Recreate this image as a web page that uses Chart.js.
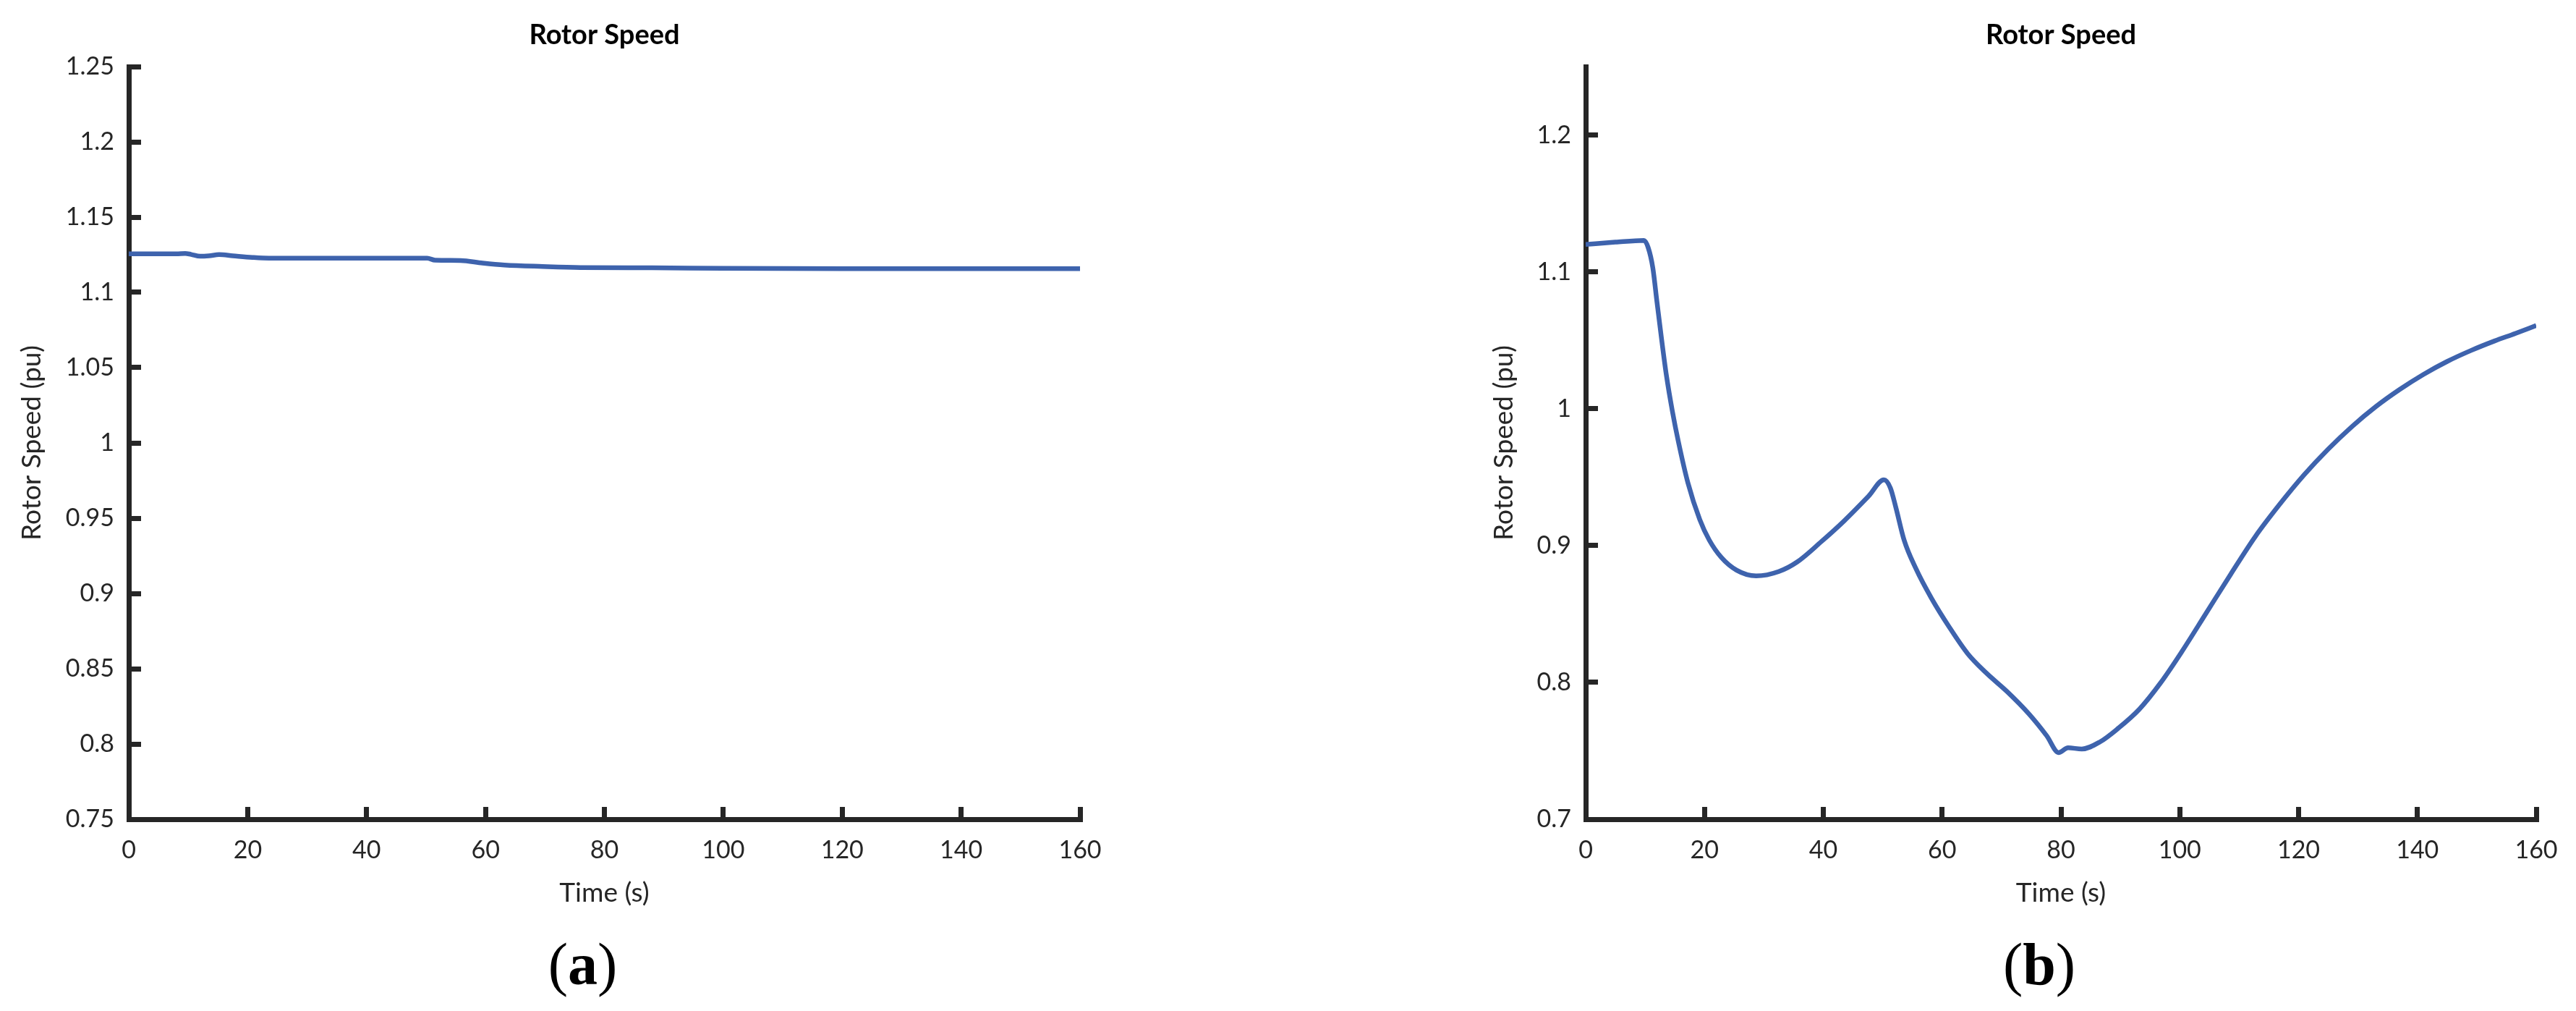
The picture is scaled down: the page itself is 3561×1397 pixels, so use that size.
<!DOCTYPE html>
<html>
<head>
<meta charset="utf-8">
<script src="https://cdn.jsdelivr.net/npm/chart.js@4.4.1/dist/chart.umd.min.js"></script>
<style>
  html, body { margin: 0; padding: 0; background: #ffffff; }
  body { width: 3561px; height: 1397px; position: relative; overflow: hidden; }
  canvas { position: absolute; top: 0; }
  #cA { left: 0; }
  #cB { left: 1780px; }
</style>
</head>
<body>
<canvas id="cA" width="1780" height="1397" style="width:1780px;height:1397px"></canvas>
<canvas id="cB" width="1796" height="1397" style="width:1796px;height:1397px"></canvas>
<script>
// ---------- data ----------
const chartTitle = 'Rotor Speed';
const xAxisLabel = 'Time (s)';
const yAxisLabel = 'Rotor Speed (pu)';
const panelNames = ['a', 'b'];

const xTicks = [0, 20, 40, 60, 80, 100, 120, 140, 160];
const yTicksA = [0.75, 0.8, 0.85, 0.9, 0.95, 1, 1.05, 1.1, 1.15, 1.2, 1.25];
const yTicksB = [0.7, 0.8, 0.9, 1, 1.1, 1.2];

// panel (a)
const timeA  = [0, 8, 9.5, 10.5, 12, 13.5, 15.2, 17.5, 20.8, 23.6, 30, 40, 50.2, 51.5, 55.8, 59.5, 63.2, 69.6, 76, 88, 100, 120, 140, 160];
const speedA = [1.1256, 1.1256, 1.1259, 1.1252, 1.1240, 1.1243, 1.1251, 1.1243, 1.1232, 1.1227, 1.1227, 1.1227, 1.1227, 1.1214, 1.1212, 1.1195, 1.1182, 1.1172, 1.1165, 1.1163, 1.1160, 1.1158, 1.1158, 1.1158];

// panel (b)
const timeB  = [0, 5, 9.8, 10.5, 11.3, 12.0, 12.8, 13.6, 14.6, 15.6, 17.2, 19.2, 20.8, 22.8, 25.4, 28.7, 32.5, 35.6, 39.7, 43.5, 47.6, 50.2, 51.3, 52.2, 53.6, 55.6, 58.2, 61.2, 64.3, 67.4, 71.0, 74.6, 77.6, 79.6, 81.2, 83.5, 86.6, 89.6, 93.2, 96.8, 100.4, 104.5, 108.6, 112.7, 116.8, 120.9, 125.0, 129.0, 133.0, 137.0, 141.0, 145.0, 149.0, 153.0, 156.5, 160];
const speedB = [1.120, 1.1217, 1.1230, 1.118, 1.103, 1.078, 1.050, 1.024, 0.998, 0.976, 0.946, 0.919, 0.904, 0.8915, 0.882, 0.8778, 0.881, 0.888, 0.903, 0.918, 0.936, 0.948, 0.942, 0.928, 0.904, 0.883, 0.8615, 0.8404, 0.821, 0.807, 0.793, 0.777, 0.761, 0.7487, 0.7522, 0.7513, 0.7566, 0.7663, 0.7804, 0.7998, 0.8228, 0.851, 0.8792, 0.9065, 0.930, 0.9515, 0.9705, 0.9870, 1.0015, 1.0140, 1.0250, 1.0345, 1.0425, 1.0495, 1.0550, 1.0608];

// ---------- styling ----------
const LINE = '#3E63AD';
const AXIS = '#262626';
const FONT = 'Lato';

const panelLabelPlugin = {
  id: 'panelLabel',
  afterDraw(chart, args, opts) {
    const ctx = chart.ctx;
    const a = chart.chartArea;
    const cx = (a.left + a.right) / 2 + opts.dx;
    const base = opts.baseline;
    const normal = '82px "Liberation Serif"';
    const bold = 'bold 82px "Liberation Serif"';
    ctx.save();
    ctx.fillStyle = '#000';
    ctx.textBaseline = 'alphabetic';
    ctx.textAlign = 'left';
    ctx.font = normal; const w1 = ctx.measureText('(').width; const w3 = ctx.measureText(')').width;
    ctx.font = bold; const w2 = ctx.measureText(opts.text).width;
    let x = cx - (w1 + w2 + w3) / 2;
    ctx.font = normal; ctx.fillText('(', x, base); x += w1;
    ctx.font = bold; ctx.fillText(opts.text, x, base); x += w2;
    ctx.font = normal; ctx.fillText(')', x, base);
    ctx.restore();
  }
};

function fmt(v) { return String(Number(v.toFixed(2))); }

function build(id, times, speeds, yMin, yMax, yTicks, o) {
  const pts = times.map((t, i) => ({ x: t, y: speeds[i] }));
  return new Chart(document.getElementById(id), {
    type: 'line',
    data: { datasets: [{
      data: pts, borderColor: LINE, borderWidth: 6.5, pointRadius: 0, fill: false,
      cubicInterpolationMode: 'monotone', borderJoinStyle: 'round', borderCapStyle: 'butt'
    }] },
    options: {
      responsive: false, animation: false, devicePixelRatio: 1,
      layout: { padding: { left: o.padL, right: o.padR, top: 0, bottom: 0 } },
      plugins: {
        legend: { display: false },
        tooltip: { enabled: false },
        title: {
          display: true, text: chartTitle, fullSize: false, color: '#000',
          font: { family: FONT, size: 38, weight: 'bold', lineHeight: 1.2 },
          padding: { top: 26, bottom: 20.4 }
        },
        panelLabel: { text: o.panel, dx: -30, baseline: 1360 }
      },
      scales: {
        x: {
          type: 'linear', min: 0, max: 160,
          afterBuildTicks: s => { s.ticks = xTicks.map(v => ({ value: v })); },
          afterFit: s => { s.height = 265; },
          border: { display: true, width: 7, color: AXIS },
          grid: { display: true, drawOnChartArea: false, drawTicks: true, tickLength: -17, tickWidth: 7, tickColor: AXIS },
          ticks: { padding: 40, color: AXIS, font: { family: FONT, size: 34 }, maxRotation: 0, autoSkip: false, callback: v => fmt(v) },
          title: { display: true, text: xAxisLabel, color: AXIS, font: { family: FONT, size: 37, lineHeight: 1.2 }, padding: { top: 0, bottom: 140.8 } }
        },
        y: {
          type: 'linear', min: yMin, max: yMax,
          afterBuildTicks: s => { s.ticks = yTicks.map(v => ({ value: v })); },
          afterFit: s => { s.width = 178; },
          border: { display: true, width: 7, color: AXIS },
          grid: { display: true, drawOnChartArea: false, drawTicks: true, tickLength: -17, tickWidth: 7, tickColor: AXIS },
          ticks: { padding: 37, color: AXIS, font: { family: FONT, size: 34 }, autoSkip: false, callback: v => fmt(v) },
          title: { display: true, text: yAxisLabel, color: AXIS, font: { family: FONT, size: 37, lineHeight: 1.2 }, padding: { top: o.yTitlePad, bottom: 0 } }
        }
      }
    },
    plugins: [panelLabelPlugin]
  });
}

build('cA', timeA, speedA, 0.75, 1.25, yTicksA, { padL: 0, padR: 287, yTitlePad: 22, panel: panelNames[0] });
build('cB', timeB, speedB, 0.7, 1.25, yTicksB, { padL: 234, padR: 70, yTitlePad: 43, panel: panelNames[1] });
</script>
</body>
</html>
